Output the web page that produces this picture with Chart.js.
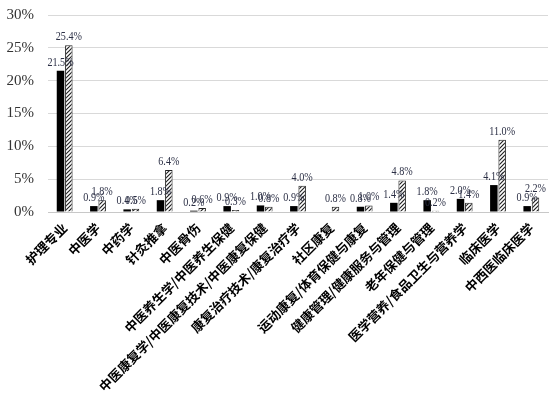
<!DOCTYPE html>
<html>
<head>
<meta charset="utf-8">
<script src="https://cdn.jsdelivr.net/npm/chart.js@4/dist/chart.umd.min.js"></script>
<style>
  html, body { margin: 0; padding: 0; background: #fff; }
  #wrap { width: 556px; height: 396px; }
</style>
</head>
<body>
<div id="wrap"><canvas id="chart" width="556" height="396"></canvas></div>
<script>
const categories = [
  '护理专业', '中医学', '中药学', '针灸推拿', '中医骨伤',
  '中医养生学/中医养生保健', '中医康复学/中医康复技术/中医康复保健',
  '康复治疗技术/康复治疗学', '社区康复', '运动康复/体育保健与康复',
  '健康管理/健康服务与管理', '老年保健与管理', '医学营养/食品卫生与营养学',
  '临床医学', '中西医临床医学'
];
const seriesA = [21.5, 0.9, 0.4, 1.8, 0.2, 0.9, 1.0, 0.9, null, 0.8, 1.4, 1.8, 2.0, 4.1, 0.9];
const seriesB = [25.4, 1.8, 0.5, 6.4, 0.6, 0.3, 0.8, 4.0, 0.8, 1.0, 4.8, 0.2, 1.4, 11.0, 2.2];
const yTicks = [0, 5, 10, 15, 20, 25, 30];

function hatch() {
  const c = document.createElement('canvas');
  c.width = 4; c.height = 4;
  const g = c.getContext('2d');
  g.fillStyle = '#fff';
  g.fillRect(0, 0, 4, 4);
  g.strokeStyle = '#222';
  g.lineWidth = 1.2;
  g.beginPath();
  g.moveTo(0, 4); g.lineTo(4, 0);
  g.moveTo(-1, 1); g.lineTo(1, -1);
  g.moveTo(3, 5); g.lineTo(5, 3);
  g.stroke();
  return g.createPattern(c, 'repeat');
}

// value above each bar, narrow serif like the original
const valueLabels = {
  id: 'valueLabels',
  afterDatasetsDraw(chart) {
    const ctx = chart.ctx;
    chart.data.datasets.forEach((ds, i) => {
      chart.getDatasetMeta(i).data.forEach((bar, j) => {
        const v = ds.data[j];
        if (v == null) return;
        ctx.save();
        ctx.translate(bar.x, bar.y - 2);
        ctx.scale(0.78, 1);
        ctx.font = '13px "Liberation Serif", serif';
        ctx.fillStyle = '#2b2f45';
        ctx.textAlign = 'center';
        ctx.textBaseline = 'bottom';
        ctx.fillText(v.toFixed(1) + '%', 0, 0);
        ctx.restore();
      });
    });
  }
};

new Chart(document.getElementById('chart'), {
  type: 'bar',
  data: {
    labels: categories,
    datasets: [
      { data: seriesA, backgroundColor: '#000', borderColor: '#000', borderWidth: 0 },
      { data: seriesB, backgroundColor: hatch(), borderColor: '#222', borderWidth: 1 }
    ]
  },
  plugins: [valueLabels],
  options: {
    responsive: false,
    animation: false,
    layout: { padding: { top: 15, right: 8, left: 0, bottom: 0 } },
    datasets: { bar: { categoryPercentage: 0.5, barPercentage: 0.9 } },
    plugins: { legend: { display: false }, tooltip: { enabled: false } },
    scales: {
      x: {
        afterFit(axis) { axis.height = 184; },
        grid: { display: false },
        border: { color: '#c8c8c8' },
        ticks: {
          autoSkip: false,
          minRotation: 45,
          maxRotation: 45,
          color: '#000',
          padding: 0,
          font: { family: '"Noto Sans CJK SC", sans-serif', size: 13, weight: 'bold' }
        }
      },
      y: {
        min: 0,
        max: 30,
        afterBuildTicks(axis) { axis.ticks = yTicks.map(v => ({ value: v })); },
        afterFit(axis) { axis.width = 48; axis.paddingTop = 0; axis.paddingBottom = 0; },
        grid: { color: '#d9d9d9', drawTicks: false },
        border: { display: false },
        ticks: {
          color: '#333',
          padding: 14,
          font: { family: '"Liberation Serif", serif', size: 15 },
          callback: v => v + '%'
        }
      }
    }
  }
});
</script>
</body>
</html>
